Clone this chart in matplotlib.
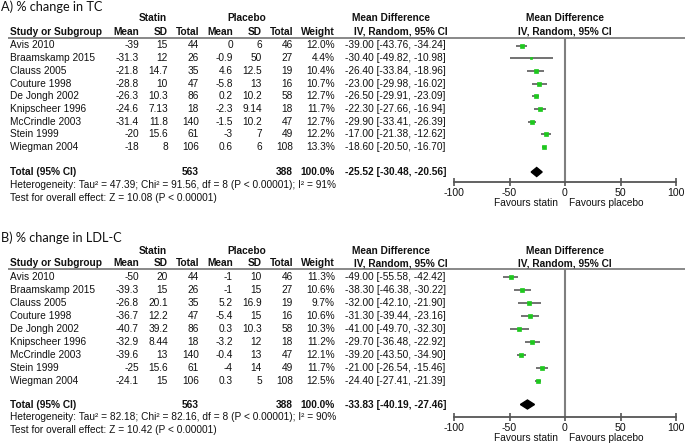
import matplotlib
matplotlib.use("Agg")
import matplotlib.pyplot as plt
from matplotlib.patches import Polygon
import numpy as np

plt.rcParams["axes.unicode_minus"] = False

# ---------------- data ----------------
studies = ["Avis 2010", "Braamskamp 2015", "Clauss 2005", "Couture 1998", "De Jongh 2002",
           "Knipscheer 1996", "McCrindle 2003", "Stein 1999", "Wiegman 2004"]

# Panel A: % change in TC
tc_statin_mean = [-39, -31.3, -21.8, -28.8, -26.3, -24.6, -31.4, -20, -18]
tc_statin_sd = [15, 12, 14.7, 10, 10.3, 7.13, 11.8, 15.6, 8]
tc_statin_n = [44, 26, 35, 47, 86, 18, 140, 61, 106]
tc_plac_mean = [0, -0.9, 4.6, -5.8, 0.2, -2.3, -1.5, -3, 0.6]
tc_plac_sd = [6, 50, 12.5, 13, 10.2, 9.14, 10.2, 7, 6]
tc_plac_n = [46, 27, 19, 16, 58, 18, 47, 49, 108]
tc_weight = [12.0, 4.4, 10.4, 10.7, 12.7, 11.7, 12.7, 12.2, 13.3]
tc_md = [-39.00, -30.40, -26.40, -23.00, -26.50, -22.30, -29.90, -17.00, -18.60]
tc_lo = [-43.76, -49.82, -33.84, -29.98, -29.91, -27.66, -33.41, -21.38, -20.50]
tc_hi = [-34.24, -10.98, -18.96, -16.02, -23.09, -16.94, -26.39, -12.62, -16.70]
tc_total = [-25.52, -30.48, -20.56]
tc_het = "Heterogeneity: Tau\u00b2 = 47.39; Chi\u00b2 = 91.56, df = 8 (P < 0.00001); I\u00b2 = 91%"
tc_test = "Test for overall effect: Z = 10.08 (P < 0.00001)"

# Panel B: % change in LDL-C
ldl_statin_mean = [-50, -39.3, -26.8, -36.7, -40.7, -32.9, -39.6, -25, -24.1]
ldl_statin_sd = [20, 15, 20.1, 12.2, 39.2, 8.44, 13, 15.6, 15]
ldl_statin_n = [44, 26, 35, 47, 86, 18, 140, 61, 106]
ldl_plac_mean = [-1, -1, 5.2, -5.4, 0.3, -3.2, -0.4, -4, 0.3]
ldl_plac_sd = [10, 15, 16.9, 15, 10.3, 12, 13, 14, 5]
ldl_plac_n = [46, 27, 19, 16, 58, 18, 47, 49, 108]
ldl_weight = [11.3, 10.6, 9.7, 10.6, 10.3, 11.2, 12.1, 11.7, 12.5]
ldl_md = [-49.00, -38.30, -32.00, -31.30, -41.00, -29.70, -39.20, -21.00, -24.40]
ldl_lo = [-55.58, -46.38, -42.10, -39.44, -49.70, -36.48, -43.50, -26.54, -27.41]
ldl_hi = [-42.42, -30.22, -21.90, -23.16, -32.30, -22.92, -34.90, -15.46, -21.39]
ldl_total = [-33.83, -40.19, -27.46]
ldl_het = "Heterogeneity: Tau\u00b2 = 82.18; Chi\u00b2 = 82.16, df = 8 (P < 0.00001); I\u00b2 = 90%"
ldl_test = "Test for overall effect: Z = 10.42 (P < 0.00001)"

total_statin_n = 563
total_plac_n = 388
xticks = [-100, -50, 0, 50, 100]

# ---------------- figure ----------------
W, H = 685, 445
fig = plt.figure(figsize=(W / 100, H / 100), dpi=100)
fig.patch.set_facecolor("white")
bg = fig.add_axes([0, 0, 1, 1])
bg.set_xlim(0, W)
bg.set_ylim(H, 0)
bg.axis("off")

FONT = "Liberation Sans"
FS = 7.3
GREEN = "#1ec81e"
GRAY = "#7f7f7f"


def panel(title, ytitle, yhdr1, yhdr2, yline, row0, step, ytot, yhet, ytest, yaxis,
          smean, ssd, sn, pmean, psd, pn, wt, md, lo, hi, tot, het, test):
    t = dict(fontsize=FS, family=FONT, va="center", color="#111111")
    b = dict(t, fontweight="bold")
    bg.text(1, ytitle, title, fontsize=9.2, family="Lato", va="center", ha="left", color="#111111")
    # header
    bg.text(153, yhdr1, "Statin", ha="center", **b)
    bg.text(247, yhdr1, "Placebo", ha="center", **b)
    bg.text(391, yhdr1, "Mean Difference", ha="center", **b)
    bg.text(565, yhdr1, "Mean Difference", ha="center", **b)
    bg.text(10, yhdr2, "Study or Subgroup", ha="left", **b)
    for x, s in [(139, "Mean"), (168, "SD"), (199, "Total"), (233, "Mean"),
                 (262, "SD"), (293, "Total"), (335, "Weight")]:
        bg.text(x, yhdr2, s, ha="right", **b)
    bg.text(401, yhdr2, "IV, Random, 95% CI", ha="center", **b)
    bg.text(565, yhdr2, "IV, Random, 95% CI", ha="center", **b)
    bg.plot([8, W], [yline, yline], color=GRAY, lw=1.3, solid_capstyle="butt")

    ys = [row0 + step * i for i in range(len(studies))]
    for i, y in enumerate(ys):
        bg.text(10, y, studies[i], ha="left", **t)
        for x, v in [(139, smean[i]), (168, ssd[i]), (199, sn[i]), (233, pmean[i]),
                     (262, psd[i]), (293, pn[i])]:
            bg.text(x, y, f"{v:g}", ha="right", **t)
        bg.text(335, y, f"{wt[i]:.1f}%", ha="right", **t)
        bg.text(345, y, f"{md[i]:.2f} [{lo[i]:.2f}, {hi[i]:.2f}]", ha="left", **t)
    bg.text(10, ytot, "Total (95% CI)", ha="left", **b)
    bg.text(199, ytot, f"{total_statin_n}", ha="right", **b)
    bg.text(293, ytot, f"{total_plac_n}", ha="right", **b)
    bg.text(335, ytot, "100.0%", ha="right", **b)
    bg.text(345, ytot, f"{tot[0]:.2f} [{tot[1]:.2f}, {tot[2]:.2f}]", ha="left", **b)
    bg.text(10, yhet, het, ha="left", **t)
    bg.text(10, ytest, test, ha="left", **t)

    # forest axes
    xl, xr = 454, 676
    ax = fig.add_axes([xl / W, 1 - yaxis / H, (xr - xl) / W, (yaxis - yline) / H])
    ax.set_xlim(-100, 100)
    ax.set_ylim(yaxis, yline)
    ax.patch.set_alpha(0)
    for s in ["top", "left", "right"]:
        ax.spines[s].set_visible(False)
    ax.spines["bottom"].set_color("#555555")
    ax.spines["bottom"].set_linewidth(1.3)
    ax.set_yticks([])
    ax.set_xticks(xticks)
    ax.tick_params(axis="x", direction="inout", length=6, width=1.2, color="#555555",
                   labelsize=7.6, pad=1.5, labelcolor="#111111")
    for lab in ax.get_xticklabels():
        lab.set_family(FONT)
    ax.axvline(0, color=GRAY, lw=1.5)
    for i, y in enumerate(ys):
        ax.plot([lo[i], hi[i]], [y, y], color="#5a5a5a", lw=1.2, solid_capstyle="butt")
        ax.plot(md[i], y, marker="s", ms=0.85 * np.sqrt(wt[i]), color=GREEN, mec=GREEN, mew=0.5)
    d = Polygon([[tot[1], ytot], [tot[0], ytot - 4.5], [tot[2], ytot], [tot[0], ytot + 4.5]],
                closed=True, facecolor="black", edgecolor="black")
    ax.add_patch(d)
    bg.text(558, yaxis + 21, "Favours statin", ha="right", **t)
    bg.text(569, yaxis + 21, "Favours placebo", ha="left", **t)


panel("A) % change in TC", 7, 18, 32, 37.5, 45.5, 12.7, 172, 185, 198, 182,
      tc_statin_mean, tc_statin_sd, tc_statin_n, tc_plac_mean, tc_plac_sd, tc_plac_n,
      tc_weight, tc_md, tc_lo, tc_hi, tc_total, tc_het, tc_test)
panel("B) % change in LDL-C", 238, 251, 263, 269, 277.3, 13.0, 404.5, 417.5, 430, 417,
      ldl_statin_mean, ldl_statin_sd, ldl_statin_n, ldl_plac_mean, ldl_plac_sd, ldl_plac_n,
      ldl_weight, ldl_md, ldl_lo, ldl_hi, ldl_total, ldl_het, ldl_test)

fig.savefig("out.png", dpi=100, facecolor="white")
